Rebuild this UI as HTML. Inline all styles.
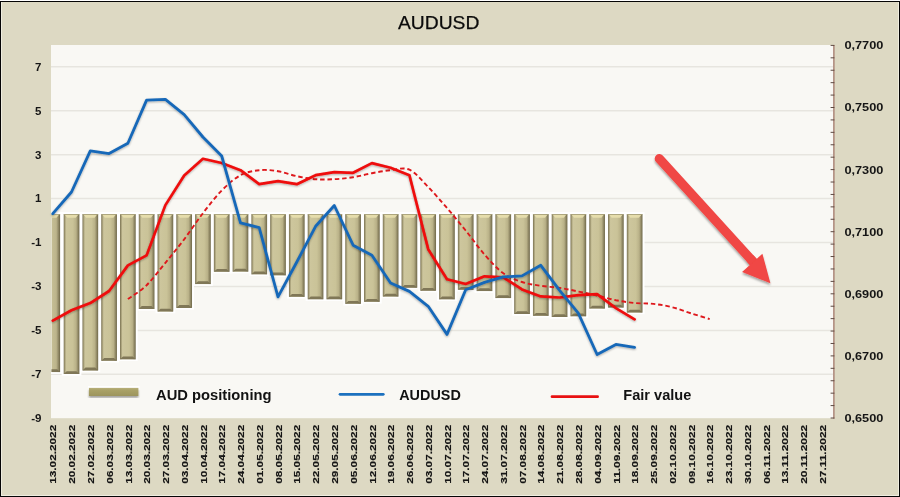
<!DOCTYPE html>
<html><head><meta charset="utf-8"><title>AUDUSD</title>
<style>
html,body{margin:0;padding:0;background:#fff;}
body{width:900px;height:497px;overflow:hidden;}
svg{display:block;}
text{font-family:"Liberation Sans",sans-serif;}
.b{font-weight:bold;}
</style></head><body>
<svg width="900" height="497" viewBox="0 0 900 497">
<defs>
<linearGradient id="bg" x1="0" y1="0" x2="1" y2="0">
<stop offset="0" stop-color="#756d4e"/>
<stop offset="0.065" stop-color="#9e9670"/>
<stop offset="0.16" stop-color="#cdc69d"/>
<stop offset="0.58" stop-color="#cac398"/>
<stop offset="0.79" stop-color="#b9b188"/>
<stop offset="0.91" stop-color="#8f8764"/>
<stop offset="1" stop-color="#6e6748"/>
</linearGradient>
<linearGradient id="bg0" x1="0" y1="0" x2="1" y2="0">
<stop offset="0" stop-color="#c6bf95"/>
<stop offset="0.55" stop-color="#bcb48b"/>
<stop offset="0.82" stop-color="#8f8764"/>
<stop offset="1" stop-color="#6e6748"/>
</linearGradient>
<linearGradient id="lg" x1="0" y1="0" x2="0" y2="1">
<stop offset="0" stop-color="#b8b079"/>
<stop offset="0.3" stop-color="#a9a166"/>
<stop offset="1" stop-color="#9c945b"/>
</linearGradient>
<clipPath id="pc"><rect x="51" y="45" width="782.4" height="373.2"/></clipPath>
<filter id="sh" x="-20%" y="-20%" width="140%" height="140%">
<feGaussianBlur in="SourceAlpha" stdDeviation="1.2"/><feOffset dx="-0.5" dy="1.5"/>
<feComponentTransfer><feFuncA type="linear" slope="0.35"/></feComponentTransfer>
<feMerge><feMergeNode/><feMergeNode in="SourceGraphic"/></feMerge>
</filter>
<filter id="hb" x="-2%" y="-5%" width="104%" height="110%"><feGaussianBlur stdDeviation="0.7"/></filter>
<filter id="sh2" x="-5%" y="-5%" width="110%" height="110%">
<feGaussianBlur in="SourceAlpha" stdDeviation="0.9"/><feOffset dx="0" dy="1.4"/>
<feComponentTransfer><feFuncA type="linear" slope="0.32"/></feComponentTransfer>
<feMerge><feMergeNode/><feMergeNode in="SourceGraphic"/></feMerge>
</filter>
</defs>

<rect x="0" y="0" width="900" height="497" fill="#ffffff"/>
<rect x="0" y="1" width="900" height="496" fill="#050505"/>
<rect x="1" y="2" width="898" height="494" fill="#efede0"/>
<rect x="2" y="2" width="896" height="493" fill="#ddd9c3"/>
<rect x="51" y="45" width="782.4" height="373.2" fill="#f9f8f4"/>
<line x1="51" y1="66.8" x2="833.4" y2="66.8" stroke="#e7e5df" stroke-width="1.5"/>
<line x1="51" y1="110.7" x2="833.4" y2="110.7" stroke="#e7e5df" stroke-width="1.5"/>
<line x1="51" y1="154.7" x2="833.4" y2="154.7" stroke="#e7e5df" stroke-width="1.5"/>
<line x1="51" y1="198.6" x2="833.4" y2="198.6" stroke="#e7e5df" stroke-width="1.5"/>
<line x1="51" y1="242.5" x2="833.4" y2="242.5" stroke="#e7e5df" stroke-width="1.5"/>
<line x1="51" y1="286.4" x2="833.4" y2="286.4" stroke="#e7e5df" stroke-width="1.5"/>
<line x1="51" y1="330.4" x2="833.4" y2="330.4" stroke="#e7e5df" stroke-width="1.5"/>
<line x1="51" y1="374.3" x2="833.4" y2="374.3" stroke="#e7e5df" stroke-width="1.5"/>
<g clip-path="url(#pc)"><g filter="url(#hb)">
<rect x="42.93" y="212.10" width="19.70" height="161.70" fill="#ffffff"/>
<rect x="61.70" y="212.10" width="19.70" height="163.60" fill="#ffffff"/>
<rect x="80.47" y="212.10" width="19.70" height="160.00" fill="#ffffff"/>
<rect x="99.24" y="212.10" width="19.70" height="150.40" fill="#ffffff"/>
<rect x="118.01" y="212.10" width="19.70" height="148.90" fill="#ffffff"/>
<rect x="136.78" y="212.10" width="19.70" height="98.50" fill="#ffffff"/>
<rect x="155.55" y="212.10" width="19.70" height="101.10" fill="#ffffff"/>
<rect x="174.32" y="212.10" width="19.70" height="97.50" fill="#ffffff"/>
<rect x="193.09" y="212.10" width="19.70" height="73.70" fill="#ffffff"/>
<rect x="211.86" y="212.10" width="19.70" height="61.30" fill="#ffffff"/>
<rect x="230.63" y="212.10" width="19.70" height="61.20" fill="#ffffff"/>
<rect x="249.40" y="212.10" width="19.70" height="63.90" fill="#ffffff"/>
<rect x="268.17" y="212.10" width="19.70" height="64.90" fill="#ffffff"/>
<rect x="286.94" y="212.10" width="19.70" height="86.40" fill="#ffffff"/>
<rect x="305.71" y="212.10" width="19.70" height="88.80" fill="#ffffff"/>
<rect x="324.48" y="212.10" width="19.70" height="88.80" fill="#ffffff"/>
<rect x="343.25" y="212.10" width="19.70" height="93.40" fill="#ffffff"/>
<rect x="362.02" y="212.10" width="19.70" height="91.40" fill="#ffffff"/>
<rect x="380.79" y="212.10" width="19.70" height="86.10" fill="#ffffff"/>
<rect x="399.56" y="212.10" width="19.70" height="77.30" fill="#ffffff"/>
<rect x="418.33" y="212.10" width="19.70" height="80.30" fill="#ffffff"/>
<rect x="437.10" y="212.10" width="19.70" height="88.90" fill="#ffffff"/>
<rect x="455.87" y="212.10" width="19.70" height="79.30" fill="#ffffff"/>
<rect x="474.64" y="212.10" width="19.70" height="80.70" fill="#ffffff"/>
<rect x="493.41" y="212.10" width="19.70" height="87.70" fill="#ffffff"/>
<rect x="512.18" y="212.10" width="19.70" height="103.60" fill="#ffffff"/>
<rect x="530.95" y="212.10" width="19.70" height="105.40" fill="#ffffff"/>
<rect x="549.72" y="212.10" width="19.70" height="106.60" fill="#ffffff"/>
<rect x="568.49" y="212.10" width="19.70" height="105.80" fill="#ffffff"/>
<rect x="587.26" y="212.10" width="19.70" height="98.10" fill="#ffffff"/>
<rect x="606.03" y="212.10" width="19.70" height="97.10" fill="#ffffff"/>
<rect x="624.80" y="212.10" width="19.70" height="102.10" fill="#ffffff"/>
</g>
<rect x="51.5" y="214.30" width="8.6" height="157.80" fill="url(#bg0)"/>
<rect x="51.5" y="214.10" width="8.6" height="0.8" fill="#a39b72"/>
<path d="M51.5 214.80 L58.9 214.80 L56.5 217.70 L51.5 217.70 Z" fill="#e9e0ae" opacity="0.9"/>
<path d="M51.5 372.10 L60.1 372.10 L57.1 369.30 L51.5 369.30 Z" fill="#7b7353" opacity="0.95"/>
<rect x="63.70" y="214.30" width="15.70" height="159.70" fill="url(#bg)"/>
<path d="M64.90 214.80 L78.20 214.80 L75.80 217.70 L67.30 217.70 Z" fill="#e9e0ae" opacity="0.9"/>
<rect x="63.70" y="214.10" width="15.70" height="0.8" fill="#a39b72"/>
<path d="M63.70 374.00 L79.40 374.00 L76.40 371.20 L66.70 371.20 Z" fill="#7b7353" opacity="0.95"/>
<rect x="82.47" y="214.30" width="15.70" height="156.10" fill="url(#bg)"/>
<path d="M83.67 214.80 L96.97 214.80 L94.57 217.70 L86.07 217.70 Z" fill="#e9e0ae" opacity="0.9"/>
<rect x="82.47" y="214.10" width="15.70" height="0.8" fill="#a39b72"/>
<path d="M82.47 370.40 L98.17 370.40 L95.17 367.60 L85.47 367.60 Z" fill="#7b7353" opacity="0.95"/>
<rect x="101.24" y="214.30" width="15.70" height="146.50" fill="url(#bg)"/>
<path d="M102.44 214.80 L115.74 214.80 L113.34 217.70 L104.84 217.70 Z" fill="#e9e0ae" opacity="0.9"/>
<rect x="101.24" y="214.10" width="15.70" height="0.8" fill="#a39b72"/>
<path d="M101.24 360.80 L116.94 360.80 L113.94 358.00 L104.24 358.00 Z" fill="#7b7353" opacity="0.95"/>
<rect x="120.01" y="214.30" width="15.70" height="145.00" fill="url(#bg)"/>
<path d="M121.21 214.80 L134.51 214.80 L132.11 217.70 L123.61 217.70 Z" fill="#e9e0ae" opacity="0.9"/>
<rect x="120.01" y="214.10" width="15.70" height="0.8" fill="#a39b72"/>
<path d="M120.01 359.30 L135.71 359.30 L132.71 356.50 L123.01 356.50 Z" fill="#7b7353" opacity="0.95"/>
<rect x="138.78" y="214.30" width="15.70" height="94.60" fill="url(#bg)"/>
<path d="M139.98 214.80 L153.28 214.80 L150.88 217.70 L142.38 217.70 Z" fill="#e9e0ae" opacity="0.9"/>
<rect x="138.78" y="214.10" width="15.70" height="0.8" fill="#a39b72"/>
<path d="M138.78 308.90 L154.48 308.90 L151.48 306.10 L141.78 306.10 Z" fill="#7b7353" opacity="0.95"/>
<rect x="157.55" y="214.30" width="15.70" height="97.20" fill="url(#bg)"/>
<path d="M158.75 214.80 L172.05 214.80 L169.65 217.70 L161.15 217.70 Z" fill="#e9e0ae" opacity="0.9"/>
<rect x="157.55" y="214.10" width="15.70" height="0.8" fill="#a39b72"/>
<path d="M157.55 311.50 L173.25 311.50 L170.25 308.70 L160.55 308.70 Z" fill="#7b7353" opacity="0.95"/>
<rect x="176.32" y="214.30" width="15.70" height="93.60" fill="url(#bg)"/>
<path d="M177.52 214.80 L190.82 214.80 L188.42 217.70 L179.92 217.70 Z" fill="#e9e0ae" opacity="0.9"/>
<rect x="176.32" y="214.10" width="15.70" height="0.8" fill="#a39b72"/>
<path d="M176.32 307.90 L192.02 307.90 L189.02 305.10 L179.32 305.10 Z" fill="#7b7353" opacity="0.95"/>
<rect x="195.09" y="214.30" width="15.70" height="69.80" fill="url(#bg)"/>
<path d="M196.29 214.80 L209.59 214.80 L207.19 217.70 L198.69 217.70 Z" fill="#e9e0ae" opacity="0.9"/>
<rect x="195.09" y="214.10" width="15.70" height="0.8" fill="#a39b72"/>
<path d="M195.09 284.10 L210.79 284.10 L207.79 281.30 L198.09 281.30 Z" fill="#7b7353" opacity="0.95"/>
<rect x="213.86" y="214.30" width="15.70" height="57.40" fill="url(#bg)"/>
<path d="M215.06 214.80 L228.36 214.80 L225.96 217.70 L217.46 217.70 Z" fill="#e9e0ae" opacity="0.9"/>
<rect x="213.86" y="214.10" width="15.70" height="0.8" fill="#a39b72"/>
<path d="M213.86 271.70 L229.56 271.70 L226.56 268.90 L216.86 268.90 Z" fill="#7b7353" opacity="0.95"/>
<rect x="232.63" y="214.30" width="15.70" height="57.30" fill="url(#bg)"/>
<path d="M233.83 214.80 L247.13 214.80 L244.73 217.70 L236.23 217.70 Z" fill="#e9e0ae" opacity="0.9"/>
<rect x="232.63" y="214.10" width="15.70" height="0.8" fill="#a39b72"/>
<path d="M232.63 271.60 L248.33 271.60 L245.33 268.80 L235.63 268.80 Z" fill="#7b7353" opacity="0.95"/>
<rect x="251.40" y="214.30" width="15.70" height="60.00" fill="url(#bg)"/>
<path d="M252.60 214.80 L265.90 214.80 L263.50 217.70 L255.00 217.70 Z" fill="#e9e0ae" opacity="0.9"/>
<rect x="251.40" y="214.10" width="15.70" height="0.8" fill="#a39b72"/>
<path d="M251.40 274.30 L267.10 274.30 L264.10 271.50 L254.40 271.50 Z" fill="#7b7353" opacity="0.95"/>
<rect x="270.17" y="214.30" width="15.70" height="61.00" fill="url(#bg)"/>
<path d="M271.37 214.80 L284.67 214.80 L282.27 217.70 L273.77 217.70 Z" fill="#e9e0ae" opacity="0.9"/>
<rect x="270.17" y="214.10" width="15.70" height="0.8" fill="#a39b72"/>
<path d="M270.17 275.30 L285.87 275.30 L282.87 272.50 L273.17 272.50 Z" fill="#7b7353" opacity="0.95"/>
<rect x="288.94" y="214.30" width="15.70" height="82.50" fill="url(#bg)"/>
<path d="M290.14 214.80 L303.44 214.80 L301.04 217.70 L292.54 217.70 Z" fill="#e9e0ae" opacity="0.9"/>
<rect x="288.94" y="214.10" width="15.70" height="0.8" fill="#a39b72"/>
<path d="M288.94 296.80 L304.64 296.80 L301.64 294.00 L291.94 294.00 Z" fill="#7b7353" opacity="0.95"/>
<rect x="307.71" y="214.30" width="15.70" height="84.90" fill="url(#bg)"/>
<path d="M308.91 214.80 L322.21 214.80 L319.81 217.70 L311.31 217.70 Z" fill="#e9e0ae" opacity="0.9"/>
<rect x="307.71" y="214.10" width="15.70" height="0.8" fill="#a39b72"/>
<path d="M307.71 299.20 L323.41 299.20 L320.41 296.40 L310.71 296.40 Z" fill="#7b7353" opacity="0.95"/>
<rect x="326.48" y="214.30" width="15.70" height="84.90" fill="url(#bg)"/>
<path d="M327.68 214.80 L340.98 214.80 L338.58 217.70 L330.08 217.70 Z" fill="#e9e0ae" opacity="0.9"/>
<rect x="326.48" y="214.10" width="15.70" height="0.8" fill="#a39b72"/>
<path d="M326.48 299.20 L342.18 299.20 L339.18 296.40 L329.48 296.40 Z" fill="#7b7353" opacity="0.95"/>
<rect x="345.25" y="214.30" width="15.70" height="89.50" fill="url(#bg)"/>
<path d="M346.45 214.80 L359.75 214.80 L357.35 217.70 L348.85 217.70 Z" fill="#e9e0ae" opacity="0.9"/>
<rect x="345.25" y="214.10" width="15.70" height="0.8" fill="#a39b72"/>
<path d="M345.25 303.80 L360.95 303.80 L357.95 301.00 L348.25 301.00 Z" fill="#7b7353" opacity="0.95"/>
<rect x="364.02" y="214.30" width="15.70" height="87.50" fill="url(#bg)"/>
<path d="M365.22 214.80 L378.52 214.80 L376.12 217.70 L367.62 217.70 Z" fill="#e9e0ae" opacity="0.9"/>
<rect x="364.02" y="214.10" width="15.70" height="0.8" fill="#a39b72"/>
<path d="M364.02 301.80 L379.72 301.80 L376.72 299.00 L367.02 299.00 Z" fill="#7b7353" opacity="0.95"/>
<rect x="382.79" y="214.30" width="15.70" height="82.20" fill="url(#bg)"/>
<path d="M383.99 214.80 L397.29 214.80 L394.89 217.70 L386.39 217.70 Z" fill="#e9e0ae" opacity="0.9"/>
<rect x="382.79" y="214.10" width="15.70" height="0.8" fill="#a39b72"/>
<path d="M382.79 296.50 L398.49 296.50 L395.49 293.70 L385.79 293.70 Z" fill="#7b7353" opacity="0.95"/>
<rect x="401.56" y="214.30" width="15.70" height="73.40" fill="url(#bg)"/>
<path d="M402.76 214.80 L416.06 214.80 L413.66 217.70 L405.16 217.70 Z" fill="#e9e0ae" opacity="0.9"/>
<rect x="401.56" y="214.10" width="15.70" height="0.8" fill="#a39b72"/>
<path d="M401.56 287.70 L417.26 287.70 L414.26 284.90 L404.56 284.90 Z" fill="#7b7353" opacity="0.95"/>
<rect x="420.33" y="214.30" width="15.70" height="76.40" fill="url(#bg)"/>
<path d="M421.53 214.80 L434.83 214.80 L432.43 217.70 L423.93 217.70 Z" fill="#e9e0ae" opacity="0.9"/>
<rect x="420.33" y="214.10" width="15.70" height="0.8" fill="#a39b72"/>
<path d="M420.33 290.70 L436.03 290.70 L433.03 287.90 L423.33 287.90 Z" fill="#7b7353" opacity="0.95"/>
<rect x="439.10" y="214.30" width="15.70" height="85.00" fill="url(#bg)"/>
<path d="M440.30 214.80 L453.60 214.80 L451.20 217.70 L442.70 217.70 Z" fill="#e9e0ae" opacity="0.9"/>
<rect x="439.10" y="214.10" width="15.70" height="0.8" fill="#a39b72"/>
<path d="M439.10 299.30 L454.80 299.30 L451.80 296.50 L442.10 296.50 Z" fill="#7b7353" opacity="0.95"/>
<rect x="457.87" y="214.30" width="15.70" height="75.40" fill="url(#bg)"/>
<path d="M459.07 214.80 L472.37 214.80 L469.97 217.70 L461.47 217.70 Z" fill="#e9e0ae" opacity="0.9"/>
<rect x="457.87" y="214.10" width="15.70" height="0.8" fill="#a39b72"/>
<path d="M457.87 289.70 L473.57 289.70 L470.57 286.90 L460.87 286.90 Z" fill="#7b7353" opacity="0.95"/>
<rect x="476.64" y="214.30" width="15.70" height="76.80" fill="url(#bg)"/>
<path d="M477.84 214.80 L491.14 214.80 L488.74 217.70 L480.24 217.70 Z" fill="#e9e0ae" opacity="0.9"/>
<rect x="476.64" y="214.10" width="15.70" height="0.8" fill="#a39b72"/>
<path d="M476.64 291.10 L492.34 291.10 L489.34 288.30 L479.64 288.30 Z" fill="#7b7353" opacity="0.95"/>
<rect x="495.41" y="214.30" width="15.70" height="83.80" fill="url(#bg)"/>
<path d="M496.61 214.80 L509.91 214.80 L507.51 217.70 L499.01 217.70 Z" fill="#e9e0ae" opacity="0.9"/>
<rect x="495.41" y="214.10" width="15.70" height="0.8" fill="#a39b72"/>
<path d="M495.41 298.10 L511.11 298.10 L508.11 295.30 L498.41 295.30 Z" fill="#7b7353" opacity="0.95"/>
<rect x="514.18" y="214.30" width="15.70" height="99.70" fill="url(#bg)"/>
<path d="M515.38 214.80 L528.68 214.80 L526.28 217.70 L517.78 217.70 Z" fill="#e9e0ae" opacity="0.9"/>
<rect x="514.18" y="214.10" width="15.70" height="0.8" fill="#a39b72"/>
<path d="M514.18 314.00 L529.88 314.00 L526.88 311.20 L517.18 311.20 Z" fill="#7b7353" opacity="0.95"/>
<rect x="532.95" y="214.30" width="15.70" height="101.50" fill="url(#bg)"/>
<path d="M534.15 214.80 L547.45 214.80 L545.05 217.70 L536.55 217.70 Z" fill="#e9e0ae" opacity="0.9"/>
<rect x="532.95" y="214.10" width="15.70" height="0.8" fill="#a39b72"/>
<path d="M532.95 315.80 L548.65 315.80 L545.65 313.00 L535.95 313.00 Z" fill="#7b7353" opacity="0.95"/>
<rect x="551.72" y="214.30" width="15.70" height="102.70" fill="url(#bg)"/>
<path d="M552.92 214.80 L566.22 214.80 L563.82 217.70 L555.32 217.70 Z" fill="#e9e0ae" opacity="0.9"/>
<rect x="551.72" y="214.10" width="15.70" height="0.8" fill="#a39b72"/>
<path d="M551.72 317.00 L567.42 317.00 L564.42 314.20 L554.72 314.20 Z" fill="#7b7353" opacity="0.95"/>
<rect x="570.49" y="214.30" width="15.70" height="101.90" fill="url(#bg)"/>
<path d="M571.69 214.80 L584.99 214.80 L582.59 217.70 L574.09 217.70 Z" fill="#e9e0ae" opacity="0.9"/>
<rect x="570.49" y="214.10" width="15.70" height="0.8" fill="#a39b72"/>
<path d="M570.49 316.20 L586.19 316.20 L583.19 313.40 L573.49 313.40 Z" fill="#7b7353" opacity="0.95"/>
<rect x="589.26" y="214.30" width="15.70" height="94.20" fill="url(#bg)"/>
<path d="M590.46 214.80 L603.76 214.80 L601.36 217.70 L592.86 217.70 Z" fill="#e9e0ae" opacity="0.9"/>
<rect x="589.26" y="214.10" width="15.70" height="0.8" fill="#a39b72"/>
<path d="M589.26 308.50 L604.96 308.50 L601.96 305.70 L592.26 305.70 Z" fill="#7b7353" opacity="0.95"/>
<rect x="608.03" y="214.30" width="15.70" height="93.20" fill="url(#bg)"/>
<path d="M609.23 214.80 L622.53 214.80 L620.13 217.70 L611.63 217.70 Z" fill="#e9e0ae" opacity="0.9"/>
<rect x="608.03" y="214.10" width="15.70" height="0.8" fill="#a39b72"/>
<path d="M608.03 307.50 L623.73 307.50 L620.73 304.70 L611.03 304.70 Z" fill="#7b7353" opacity="0.95"/>
<rect x="626.80" y="214.30" width="15.70" height="98.20" fill="url(#bg)"/>
<path d="M628.00 214.80 L641.30 214.80 L638.90 217.70 L630.40 217.70 Z" fill="#e9e0ae" opacity="0.9"/>
<rect x="626.80" y="214.10" width="15.70" height="0.8" fill="#a39b72"/>
<path d="M626.80 312.50 L642.50 312.50 L639.50 309.70 L629.80 309.70 Z" fill="#7b7353" opacity="0.95"/>
</g>
<line x1="833.9" y1="45" x2="833.9" y2="418.7" stroke="#a07266" stroke-width="1.2"/>
<line x1="830.6" y1="45.40" x2="834.4" y2="45.40" stroke="#5e4a42" stroke-width="1"/>
<line x1="830.6" y1="57.82" x2="834.4" y2="57.82" stroke="#5e4a42" stroke-width="1"/>
<line x1="830.6" y1="70.24" x2="834.4" y2="70.24" stroke="#5e4a42" stroke-width="1"/>
<line x1="830.6" y1="82.66" x2="834.4" y2="82.66" stroke="#5e4a42" stroke-width="1"/>
<line x1="830.6" y1="95.08" x2="834.4" y2="95.08" stroke="#5e4a42" stroke-width="1"/>
<line x1="830.6" y1="107.50" x2="834.4" y2="107.50" stroke="#5e4a42" stroke-width="1"/>
<line x1="830.6" y1="119.92" x2="834.4" y2="119.92" stroke="#5e4a42" stroke-width="1"/>
<line x1="830.6" y1="132.34" x2="834.4" y2="132.34" stroke="#5e4a42" stroke-width="1"/>
<line x1="830.6" y1="144.76" x2="834.4" y2="144.76" stroke="#5e4a42" stroke-width="1"/>
<line x1="830.6" y1="157.18" x2="834.4" y2="157.18" stroke="#5e4a42" stroke-width="1"/>
<line x1="830.6" y1="169.60" x2="834.4" y2="169.60" stroke="#5e4a42" stroke-width="1"/>
<line x1="830.6" y1="182.02" x2="834.4" y2="182.02" stroke="#5e4a42" stroke-width="1"/>
<line x1="830.6" y1="194.44" x2="834.4" y2="194.44" stroke="#5e4a42" stroke-width="1"/>
<line x1="830.6" y1="206.86" x2="834.4" y2="206.86" stroke="#5e4a42" stroke-width="1"/>
<line x1="830.6" y1="219.28" x2="834.4" y2="219.28" stroke="#5e4a42" stroke-width="1"/>
<line x1="830.6" y1="231.70" x2="834.4" y2="231.70" stroke="#5e4a42" stroke-width="1"/>
<line x1="830.6" y1="244.12" x2="834.4" y2="244.12" stroke="#5e4a42" stroke-width="1"/>
<line x1="830.6" y1="256.54" x2="834.4" y2="256.54" stroke="#5e4a42" stroke-width="1"/>
<line x1="830.6" y1="268.96" x2="834.4" y2="268.96" stroke="#5e4a42" stroke-width="1"/>
<line x1="830.6" y1="281.38" x2="834.4" y2="281.38" stroke="#5e4a42" stroke-width="1"/>
<line x1="830.6" y1="293.80" x2="834.4" y2="293.80" stroke="#5e4a42" stroke-width="1"/>
<line x1="830.6" y1="306.22" x2="834.4" y2="306.22" stroke="#5e4a42" stroke-width="1"/>
<line x1="830.6" y1="318.64" x2="834.4" y2="318.64" stroke="#5e4a42" stroke-width="1"/>
<line x1="830.6" y1="331.06" x2="834.4" y2="331.06" stroke="#5e4a42" stroke-width="1"/>
<line x1="830.6" y1="343.48" x2="834.4" y2="343.48" stroke="#5e4a42" stroke-width="1"/>
<line x1="830.6" y1="355.90" x2="834.4" y2="355.90" stroke="#5e4a42" stroke-width="1"/>
<line x1="830.6" y1="368.32" x2="834.4" y2="368.32" stroke="#5e4a42" stroke-width="1"/>
<line x1="830.6" y1="380.74" x2="834.4" y2="380.74" stroke="#5e4a42" stroke-width="1"/>
<line x1="830.6" y1="393.16" x2="834.4" y2="393.16" stroke="#5e4a42" stroke-width="1"/>
<line x1="830.6" y1="405.58" x2="834.4" y2="405.58" stroke="#5e4a42" stroke-width="1"/>
<line x1="830.6" y1="418.00" x2="834.4" y2="418.00" stroke="#5e4a42" stroke-width="1"/>
<path d="M127.9 299.1 C131.0 296.8 140.4 291.2 146.6 285.2 C152.9 279.1 159.1 270.4 165.4 262.8 C171.7 255.2 177.9 247.6 184.2 239.3 C190.4 231.0 196.7 221.3 202.9 213.2 C209.2 205.1 215.5 196.8 221.7 190.5 C228.0 184.2 234.2 178.6 240.5 175.2 C246.7 171.8 253.0 170.9 259.2 170.2 C265.5 169.5 271.8 170.2 278.0 171.2 C284.3 172.2 290.5 174.9 296.8 176.2 C303.0 177.5 309.3 178.7 315.6 179.2 C321.8 179.7 328.1 179.5 334.3 179.2 C340.6 178.9 346.8 178.2 353.1 177.2 C359.4 176.2 365.6 174.4 371.9 173.2 C378.1 172.0 384.4 170.8 390.6 170.2 C396.9 169.6 403.2 166.9 409.4 169.7 C415.7 172.5 421.9 180.6 428.2 187.0 C434.4 193.4 440.7 200.8 447.0 208.0 C453.2 215.2 459.5 222.8 465.7 230.5 C472.0 238.2 478.2 247.4 484.5 254.5 C490.7 261.6 497.0 268.7 503.3 273.3 C509.5 277.9 515.8 279.9 522.0 282.0 C528.3 284.1 534.5 284.8 540.8 285.8 C547.1 286.8 553.3 286.9 559.6 287.9 C565.8 288.8 572.1 290.2 578.3 291.5 C584.6 292.8 590.9 294.1 597.1 295.5 C603.4 296.9 609.6 298.9 615.9 300.2 C622.1 301.4 628.4 302.4 634.6 303.0 C640.9 303.6 647.2 303.2 653.4 303.9 C659.7 304.6 665.9 305.6 672.2 307.2 C678.4 308.8 684.7 311.3 691.0 313.3 C697.2 315.3 706.6 318.1 709.7 319.1" fill="none" stroke="#de181c" stroke-width="1.9" stroke-dasharray="4.5 2.85"/>
<polyline points="52.8,320.6 71.5,310.2 90.3,303.1 109.1,291.0 127.9,265.4 146.6,255.4 165.4,205.1 184.2,175.5 202.9,158.8 221.7,163.0 240.5,170.2 259.2,184.2 278.0,181.2 296.8,184.2 315.6,175.2 334.3,172.2 353.1,172.8 371.9,163.1 390.6,167.7 409.4,175.2 428.2,249.2 447.0,279.3 465.7,284.0 484.5,276.3 503.3,277.3 522.0,289.4 540.8,296.4 559.6,297.5 578.3,295.1 597.1,294.1 615.9,308.2 634.6,319.3" fill="none" stroke="#ee0a0a" stroke-width="2.7" stroke-linejoin="round" stroke-linecap="round" filter="url(#sh2)"/>
<polyline points="52.8,213.7 71.5,192.0 90.3,150.9 109.1,153.6 127.9,143.3 146.6,100.1 165.4,99.4 184.2,114.7 202.9,137.0 221.7,156.0 240.5,222.8 259.2,227.6 278.0,296.9 296.8,262.0 315.6,226.3 334.3,205.5 353.1,245.2 371.9,255.3 390.6,283.0 409.4,291.4 428.2,306.3 447.0,334.4 465.7,289.8 484.5,282.4 503.3,276.9 522.0,275.9 540.8,265.3 559.6,290.4 578.3,313.2 597.1,354.5 615.9,344.4 634.6,347.4" fill="none" stroke="#1868b8" stroke-width="2.8" stroke-linejoin="round" stroke-linecap="round" filter="url(#sh2)"/>
<g filter="url(#sh)">
<line x1="659.3" y1="158.7" x2="754.6" y2="263.4" stroke="#f04644" stroke-width="9.2" stroke-linecap="round"/>
<line x1="750.0" y1="258.4" x2="756.5" y2="265.5" stroke="#f04644" stroke-width="9.2"/>
<path d="M770.4 283.2 L742.1 271.9 L762.4 253.8 Z" fill="#f04644"/>
</g>
<g id="txt" style="will-change:opacity" opacity="0.995">
<rect x="88.0" y="386.0" width="51.6" height="4" fill="#ffffff" filter="url(#hb)"/>
<rect x="88.9" y="387.9" width="49.5" height="8.1" fill="url(#lg)" filter="url(#sh)"/>
<line x1="340" y1="394.3" x2="383.3" y2="394.3" stroke="#1b70bf" stroke-width="2.7" stroke-linecap="round"/>
<line x1="552" y1="396.7" x2="597.6" y2="396.7" stroke="#e81010" stroke-width="2.7" stroke-linecap="round"/>
<text class="b" x="156" y="399.7" font-size="14.2" fill="#111" textLength="115.5" lengthAdjust="spacingAndGlyphs">AUD positioning</text>
<text class="b" x="399.2" y="399.7" font-size="14.2" fill="#111" textLength="61.6" lengthAdjust="spacingAndGlyphs">AUDUSD</text>
<text class="b" x="623.3" y="399.7" font-size="14.2" fill="#111" textLength="68" lengthAdjust="spacingAndGlyphs">Fair value</text>
<text x="398" y="28.7" font-size="18.8" fill="#0a0a0a" textLength="81.3" lengthAdjust="spacingAndGlyphs" stroke="#0a0a0a" stroke-width="0.25">AUDUSD</text>
<text class="b" x="35.1" y="70.7" font-size="10.6" fill="#141414" textLength="6.4" lengthAdjust="spacingAndGlyphs">7</text>
<text class="b" x="35.1" y="114.6" font-size="10.6" fill="#141414" textLength="6.4" lengthAdjust="spacingAndGlyphs">5</text>
<text class="b" x="35.1" y="158.5" font-size="10.6" fill="#141414" textLength="6.4" lengthAdjust="spacingAndGlyphs">3</text>
<text class="b" x="35.1" y="202.4" font-size="10.6" fill="#141414" textLength="6.4" lengthAdjust="spacingAndGlyphs">1</text>
<text class="b" x="31.2" y="246.4" font-size="10.6" fill="#141414" textLength="10.3" lengthAdjust="spacingAndGlyphs">-1</text>
<text class="b" x="31.2" y="290.3" font-size="10.6" fill="#141414" textLength="10.3" lengthAdjust="spacingAndGlyphs">-3</text>
<text class="b" x="31.2" y="334.2" font-size="10.6" fill="#141414" textLength="10.3" lengthAdjust="spacingAndGlyphs">-5</text>
<text class="b" x="31.2" y="378.2" font-size="10.6" fill="#141414" textLength="10.3" lengthAdjust="spacingAndGlyphs">-7</text>
<text class="b" x="31.2" y="422.1" font-size="10.6" fill="#141414" textLength="10.3" lengthAdjust="spacingAndGlyphs">-9</text>
<text class="b" x="844.4" y="49.2" font-size="11" fill="#141414" textLength="39" lengthAdjust="spacingAndGlyphs">0,7700</text>
<text class="b" x="844.4" y="111.4" font-size="11" fill="#141414" textLength="39" lengthAdjust="spacingAndGlyphs">0,7500</text>
<text class="b" x="844.4" y="173.6" font-size="11" fill="#141414" textLength="39" lengthAdjust="spacingAndGlyphs">0,7300</text>
<text class="b" x="844.4" y="235.8" font-size="11" fill="#141414" textLength="39" lengthAdjust="spacingAndGlyphs">0,7100</text>
<text class="b" x="844.4" y="298.0" font-size="11" fill="#141414" textLength="39" lengthAdjust="spacingAndGlyphs">0,6900</text>
<text class="b" x="844.4" y="360.2" font-size="11" fill="#141414" textLength="39" lengthAdjust="spacingAndGlyphs">0,6700</text>
<text class="b" x="844.4" y="422.4" font-size="11" fill="#141414" textLength="39" lengthAdjust="spacingAndGlyphs">0,6500</text>
<text class="b" transform="translate(56.45,483.8) rotate(-90)" font-size="9.8" fill="#141414" stroke="#141414" stroke-width="0.15" textLength="59" lengthAdjust="spacingAndGlyphs">13.02.2022</text>
<text class="b" transform="translate(75.22,483.8) rotate(-90)" font-size="9.8" fill="#141414" stroke="#141414" stroke-width="0.15" textLength="59" lengthAdjust="spacingAndGlyphs">20.02.2022</text>
<text class="b" transform="translate(93.99,483.8) rotate(-90)" font-size="9.8" fill="#141414" stroke="#141414" stroke-width="0.15" textLength="59" lengthAdjust="spacingAndGlyphs">27.02.2022</text>
<text class="b" transform="translate(112.76,483.8) rotate(-90)" font-size="9.8" fill="#141414" stroke="#141414" stroke-width="0.15" textLength="59" lengthAdjust="spacingAndGlyphs">06.03.2022</text>
<text class="b" transform="translate(131.53,483.8) rotate(-90)" font-size="9.8" fill="#141414" stroke="#141414" stroke-width="0.15" textLength="59" lengthAdjust="spacingAndGlyphs">13.03.2022</text>
<text class="b" transform="translate(150.30,483.8) rotate(-90)" font-size="9.8" fill="#141414" stroke="#141414" stroke-width="0.15" textLength="59" lengthAdjust="spacingAndGlyphs">20.03.2022</text>
<text class="b" transform="translate(169.07,483.8) rotate(-90)" font-size="9.8" fill="#141414" stroke="#141414" stroke-width="0.15" textLength="59" lengthAdjust="spacingAndGlyphs">27.03.2022</text>
<text class="b" transform="translate(187.84,483.8) rotate(-90)" font-size="9.8" fill="#141414" stroke="#141414" stroke-width="0.15" textLength="59" lengthAdjust="spacingAndGlyphs">03.04.2022</text>
<text class="b" transform="translate(206.61,483.8) rotate(-90)" font-size="9.8" fill="#141414" stroke="#141414" stroke-width="0.15" textLength="59" lengthAdjust="spacingAndGlyphs">10.04.2022</text>
<text class="b" transform="translate(225.38,483.8) rotate(-90)" font-size="9.8" fill="#141414" stroke="#141414" stroke-width="0.15" textLength="59" lengthAdjust="spacingAndGlyphs">17.04.2022</text>
<text class="b" transform="translate(244.15,483.8) rotate(-90)" font-size="9.8" fill="#141414" stroke="#141414" stroke-width="0.15" textLength="59" lengthAdjust="spacingAndGlyphs">24.04.2022</text>
<text class="b" transform="translate(262.92,483.8) rotate(-90)" font-size="9.8" fill="#141414" stroke="#141414" stroke-width="0.15" textLength="59" lengthAdjust="spacingAndGlyphs">01.05.2022</text>
<text class="b" transform="translate(281.69,483.8) rotate(-90)" font-size="9.8" fill="#141414" stroke="#141414" stroke-width="0.15" textLength="59" lengthAdjust="spacingAndGlyphs">08.05.2022</text>
<text class="b" transform="translate(300.46,483.8) rotate(-90)" font-size="9.8" fill="#141414" stroke="#141414" stroke-width="0.15" textLength="59" lengthAdjust="spacingAndGlyphs">15.05.2022</text>
<text class="b" transform="translate(319.23,483.8) rotate(-90)" font-size="9.8" fill="#141414" stroke="#141414" stroke-width="0.15" textLength="59" lengthAdjust="spacingAndGlyphs">22.05.2022</text>
<text class="b" transform="translate(338.00,483.8) rotate(-90)" font-size="9.8" fill="#141414" stroke="#141414" stroke-width="0.15" textLength="59" lengthAdjust="spacingAndGlyphs">29.05.2022</text>
<text class="b" transform="translate(356.77,483.8) rotate(-90)" font-size="9.8" fill="#141414" stroke="#141414" stroke-width="0.15" textLength="59" lengthAdjust="spacingAndGlyphs">05.06.2022</text>
<text class="b" transform="translate(375.54,483.8) rotate(-90)" font-size="9.8" fill="#141414" stroke="#141414" stroke-width="0.15" textLength="59" lengthAdjust="spacingAndGlyphs">12.06.2022</text>
<text class="b" transform="translate(394.31,483.8) rotate(-90)" font-size="9.8" fill="#141414" stroke="#141414" stroke-width="0.15" textLength="59" lengthAdjust="spacingAndGlyphs">19.06.2022</text>
<text class="b" transform="translate(413.08,483.8) rotate(-90)" font-size="9.8" fill="#141414" stroke="#141414" stroke-width="0.15" textLength="59" lengthAdjust="spacingAndGlyphs">26.06.2022</text>
<text class="b" transform="translate(431.85,483.8) rotate(-90)" font-size="9.8" fill="#141414" stroke="#141414" stroke-width="0.15" textLength="59" lengthAdjust="spacingAndGlyphs">03.07.2022</text>
<text class="b" transform="translate(450.62,483.8) rotate(-90)" font-size="9.8" fill="#141414" stroke="#141414" stroke-width="0.15" textLength="59" lengthAdjust="spacingAndGlyphs">10.07.2022</text>
<text class="b" transform="translate(469.39,483.8) rotate(-90)" font-size="9.8" fill="#141414" stroke="#141414" stroke-width="0.15" textLength="59" lengthAdjust="spacingAndGlyphs">17.07.2022</text>
<text class="b" transform="translate(488.16,483.8) rotate(-90)" font-size="9.8" fill="#141414" stroke="#141414" stroke-width="0.15" textLength="59" lengthAdjust="spacingAndGlyphs">24.07.2022</text>
<text class="b" transform="translate(506.93,483.8) rotate(-90)" font-size="9.8" fill="#141414" stroke="#141414" stroke-width="0.15" textLength="59" lengthAdjust="spacingAndGlyphs">31.07.2022</text>
<text class="b" transform="translate(525.70,483.8) rotate(-90)" font-size="9.8" fill="#141414" stroke="#141414" stroke-width="0.15" textLength="59" lengthAdjust="spacingAndGlyphs">07.08.2022</text>
<text class="b" transform="translate(544.47,483.8) rotate(-90)" font-size="9.8" fill="#141414" stroke="#141414" stroke-width="0.15" textLength="59" lengthAdjust="spacingAndGlyphs">14.08.2022</text>
<text class="b" transform="translate(563.24,483.8) rotate(-90)" font-size="9.8" fill="#141414" stroke="#141414" stroke-width="0.15" textLength="59" lengthAdjust="spacingAndGlyphs">21.08.2022</text>
<text class="b" transform="translate(582.01,483.8) rotate(-90)" font-size="9.8" fill="#141414" stroke="#141414" stroke-width="0.15" textLength="59" lengthAdjust="spacingAndGlyphs">28.08.2022</text>
<text class="b" transform="translate(600.78,483.8) rotate(-90)" font-size="9.8" fill="#141414" stroke="#141414" stroke-width="0.15" textLength="59" lengthAdjust="spacingAndGlyphs">04.09.2022</text>
<text class="b" transform="translate(619.55,483.8) rotate(-90)" font-size="9.8" fill="#141414" stroke="#141414" stroke-width="0.15" textLength="59" lengthAdjust="spacingAndGlyphs">11.09.2022</text>
<text class="b" transform="translate(638.32,483.8) rotate(-90)" font-size="9.8" fill="#141414" stroke="#141414" stroke-width="0.15" textLength="59" lengthAdjust="spacingAndGlyphs">18.09.2022</text>
<text class="b" transform="translate(657.09,483.8) rotate(-90)" font-size="9.8" fill="#141414" stroke="#141414" stroke-width="0.15" textLength="59" lengthAdjust="spacingAndGlyphs">25.09.2022</text>
<text class="b" transform="translate(675.86,483.8) rotate(-90)" font-size="9.8" fill="#141414" stroke="#141414" stroke-width="0.15" textLength="59" lengthAdjust="spacingAndGlyphs">02.10.2022</text>
<text class="b" transform="translate(694.63,483.8) rotate(-90)" font-size="9.8" fill="#141414" stroke="#141414" stroke-width="0.15" textLength="59" lengthAdjust="spacingAndGlyphs">09.10.2022</text>
<text class="b" transform="translate(713.40,483.8) rotate(-90)" font-size="9.8" fill="#141414" stroke="#141414" stroke-width="0.15" textLength="59" lengthAdjust="spacingAndGlyphs">16.10.2022</text>
<text class="b" transform="translate(732.17,483.8) rotate(-90)" font-size="9.8" fill="#141414" stroke="#141414" stroke-width="0.15" textLength="59" lengthAdjust="spacingAndGlyphs">23.10.2022</text>
<text class="b" transform="translate(750.94,483.8) rotate(-90)" font-size="9.8" fill="#141414" stroke="#141414" stroke-width="0.15" textLength="59" lengthAdjust="spacingAndGlyphs">30.10.2022</text>
<text class="b" transform="translate(769.71,483.8) rotate(-90)" font-size="9.8" fill="#141414" stroke="#141414" stroke-width="0.15" textLength="59" lengthAdjust="spacingAndGlyphs">06.11.2022</text>
<text class="b" transform="translate(788.48,483.8) rotate(-90)" font-size="9.8" fill="#141414" stroke="#141414" stroke-width="0.15" textLength="59" lengthAdjust="spacingAndGlyphs">13.11.2022</text>
<text class="b" transform="translate(807.25,483.8) rotate(-90)" font-size="9.8" fill="#141414" stroke="#141414" stroke-width="0.15" textLength="59" lengthAdjust="spacingAndGlyphs">20.11.2022</text>
<text class="b" transform="translate(826.02,483.8) rotate(-90)" font-size="9.8" fill="#141414" stroke="#141414" stroke-width="0.15" textLength="59" lengthAdjust="spacingAndGlyphs">27.11.2022</text>
</g>
</svg></body></html>
